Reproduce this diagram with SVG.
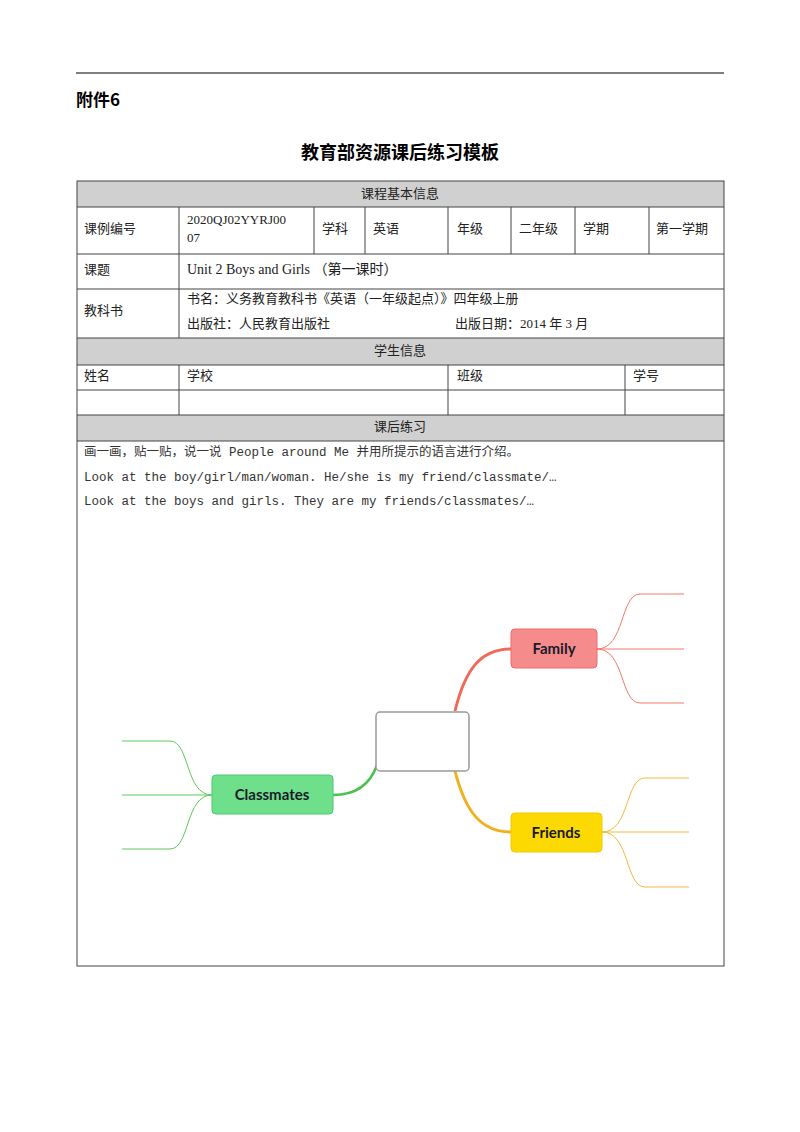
<svg xmlns="http://www.w3.org/2000/svg" width="800" height="1132" viewBox="0 0 800 1132">
<style>
.s{font-family:"Liberation Serif","Noto Sans CJK SC",serif;font-size:13px;fill:#222}
.m{font-family:"Liberation Mono","Noto Sans CJK SC",monospace;font-size:12.5px;fill:#333}
.h{fill:#d0d0d0}
.l{stroke:#444;stroke-width:1;fill:none}
.n{font-family:Lato,"Open Sans",sans-serif;font-weight:bold;font-size:15px;fill:#1a1a2a;text-anchor:middle}
</style>
<rect width="800" height="1132" fill="#fff"/>
<line x1="76" y1="73" x2="724" y2="73" stroke="#000" stroke-width="1.2"/>
<text x="76" y="106" font-family="'Noto Sans CJK SC',sans-serif" font-weight="bold" font-size="17">附件6</text>
<text x="400" y="159" text-anchor="middle" font-family="'Noto Sans CJK SC',sans-serif" font-weight="bold" font-size="18">教育部资源课后练习模板</text>
<rect class="h" x="77" y="181" width="647" height="26"/>
<rect class="h" x="77" y="338" width="647" height="27"/>
<rect class="h" x="77" y="415" width="647" height="26"/>
<g class="l">
<rect x="77" y="181" width="647" height="785"/>
<path d="M77 207H724M77 254H724M77 289H724M77 338H724M77 365H724M77 390H724M77 415H724M77 441H724"/>
<path d="M179 207V338M314 207V254M365 207V254M448 207V254M511 207V254M575 207V254M649 207V254"/>
<path d="M179 365V415M448 365V415M625 365V415"/>
</g>
<g class="s">
<text x="400" y="198" text-anchor="middle">课程基本信息</text>
<text x="84" y="233">课例编号</text>
<text x="187" y="224">2020QJ02YYRJ00</text>
<text x="187" y="242">07</text>
<text x="322" y="233">学科</text>
<text x="373" y="233">英语</text>
<text x="457" y="233">年级</text>
<text x="519" y="233">二年级</text>
<text x="583" y="233">学期</text>
<text x="656" y="233">第一学期</text>
<text x="84" y="274">课题</text>
<text x="187" y="274" font-size="14">Unit  2  Boys  and  Girls  （第一课时）</text>
<text x="84" y="315">教科书</text>
<text x="187" y="303">书名：义务教育教科书《英语（一年级起点）》四年级上册</text>
<text x="187" y="328">出版社：人民教育出版社</text>
<text x="455" y="328">出版日期：2014 年 3 月</text>
<text x="400" y="355" text-anchor="middle">学生信息</text>
<text x="84" y="380">姓名</text>
<text x="187" y="380">学校</text>
<text x="457" y="380">班级</text>
<text x="633" y="380">学号</text>
<text x="400" y="431" text-anchor="middle">课后练习</text>
</g>
<g class="m">
<text x="84" y="456">画一画，贴一贴，说一说 People around Me 并用所提示的语言进行介绍。</text>
<text x="84" y="481">Look at the boy/girl/man/woman. He/she is my friend/classmate/…</text>
<text x="84" y="505">Look at the boys and girls. They are my friends/classmates/…</text>
</g>
<g id="connectors" fill="none">
<path d="M455 711C465 670 480 649 511 649" stroke="#f06a5a" stroke-width="3"/>
<path d="M455 771C465 810 480 832 511 832" stroke="#f0b020" stroke-width="3"/>
<path d="M377 765C370 785 355 795 333 795" stroke="#4cc04c" stroke-width="2.5"/>
<g stroke="#f07a6a" stroke-width="1">
<path d="M597 649C625 649 620 594 640 594H684"/><path d="M597 649H684"/><path d="M597 649C625 649 620 703 640 703H684"/>
</g>
<g stroke="#f0b840" stroke-width="1">
<path d="M602 832C630 832 625 778 645 778H689"/><path d="M602 832H689"/><path d="M602 832C630 832 625 887 645 887H689"/>
</g>
<g stroke="#5cc85c" stroke-width="1">
<path d="M212 795C185 795 190 741 170 741H122"/><path d="M212 795H122"/><path d="M212 795C185 795 190 849 170 849H122"/>
</g>
</g>
<g id="center"><rect x="376" y="712" width="93" height="59" rx="4" fill="#fff" stroke="#999" stroke-width="1.5"/></g>
<g id="family"><rect x="511" y="629" width="86" height="39" rx="4" fill="#f68b8b" stroke="#ee6b6b"/><text class="n" x="554" y="654">Family</text></g>
<g id="friends"><rect x="511" y="813" width="91" height="39" rx="4" fill="#fcd900" stroke="#f2c800"/><text class="n" x="556" y="838">Friends</text></g>
<g id="classmates"><rect x="212" y="775" width="121" height="39" rx="4" fill="#6ee08c" stroke="#4cc870"/><text class="n" x="272" y="800">Classmates</text></g>
</svg>
